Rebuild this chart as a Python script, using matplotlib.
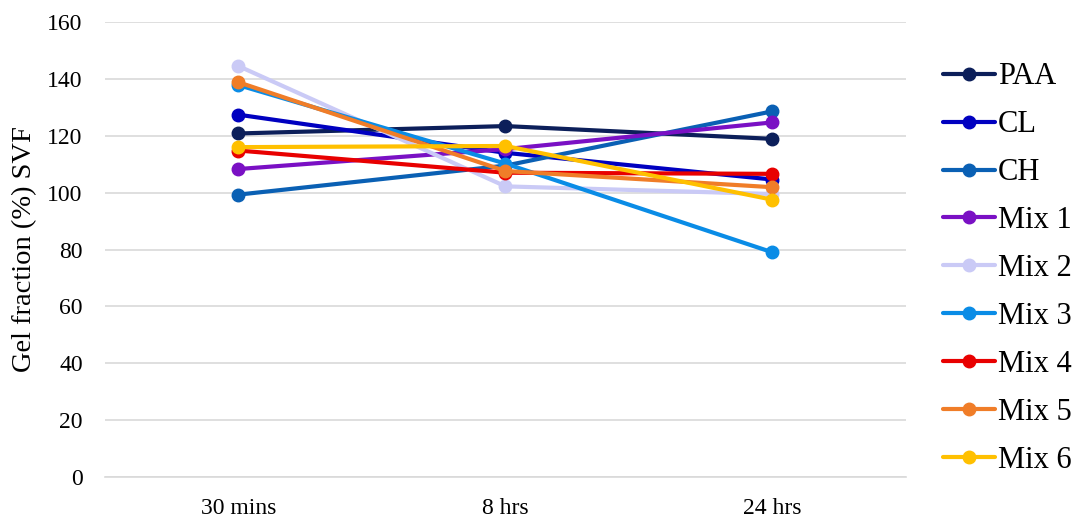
import matplotlib
matplotlib.use("Agg")
import matplotlib.pyplot as plt

times = ["30 mins", "8 hrs", "24 hrs"]
series_names = ["PAA", "CL", "CH", "Mix 1", "Mix 2", "Mix 3", "Mix 4", "Mix 5", "Mix 6"]
paa = [120.8, 123.4, 118.9]
cl = [127.4, 114.0, 104.6]
ch = [99.3, 109.5, 128.6]
mix1 = [108.3, 115.3, 124.7]
mix2 = [144.5, 102.2, 99.5]
mix3 = [137.8, 110.2, 79.0]
mix4 = [114.8, 107.0, 106.6]
mix5 = [138.8, 107.6, 101.9]
mix6 = [116.0, 116.4, 97.5]
series = [paa, cl, ch, mix1, mix2, mix3, mix4, mix5, mix6]
colors = ["#0c1f5a", "#0000c0", "#0a60b4", "#7a10c4", "#cacaf6",
          "#0a8ce6", "#e80000", "#f07d28", "#ffc000"]

plt.rcParams["font.family"] = ["Liberation Serif", "DejaVu Serif"]

fig = plt.figure(figsize=(10.72, 5.17), dpi=100)
ax = fig.add_axes([105 / 1072, 40 / 517, 801 / 1072, 455 / 517])

x = list(range(len(times)))
for name, vals, c in zip(series_names, series, colors):
    ax.plot(x, vals, "-o", color=c, linewidth=3, markersize=9, label=name,
            solid_capstyle="round")

ax.set_xlim(-0.5, 2.5)
ax.set_ylim(0, 160)
ax.set_yticks(range(0, 161, 20))
ax.set_xticks(x)
ax.set_xticklabels(times)
ax.tick_params(axis="y", length=0, labelsize=17, pad=16)
ax.tick_params(axis="x", length=0, labelsize=17, pad=15)
ax.grid(axis="y", color="#d9d9d9", linewidth=1.2)
ax.set_axisbelow(True)
for s in ["top", "right", "left"]:
    ax.spines[s].set_visible(False)
ax.spines["bottom"].set_color("#d9d9d9")
ax.spines["bottom"].set_linewidth(1.2)
ax.set_ylabel("Gel fraction (%) SVF", fontsize=20.5, labelpad=7)

ax.legend(loc="center left", bbox_to_anchor=(1.031, 0.458), frameon=False,
          fontsize=22, handlelength=1.7, handletextpad=0.1,
          labelspacing=0.62, borderaxespad=0)

fig.savefig("out.png", dpi=100)
